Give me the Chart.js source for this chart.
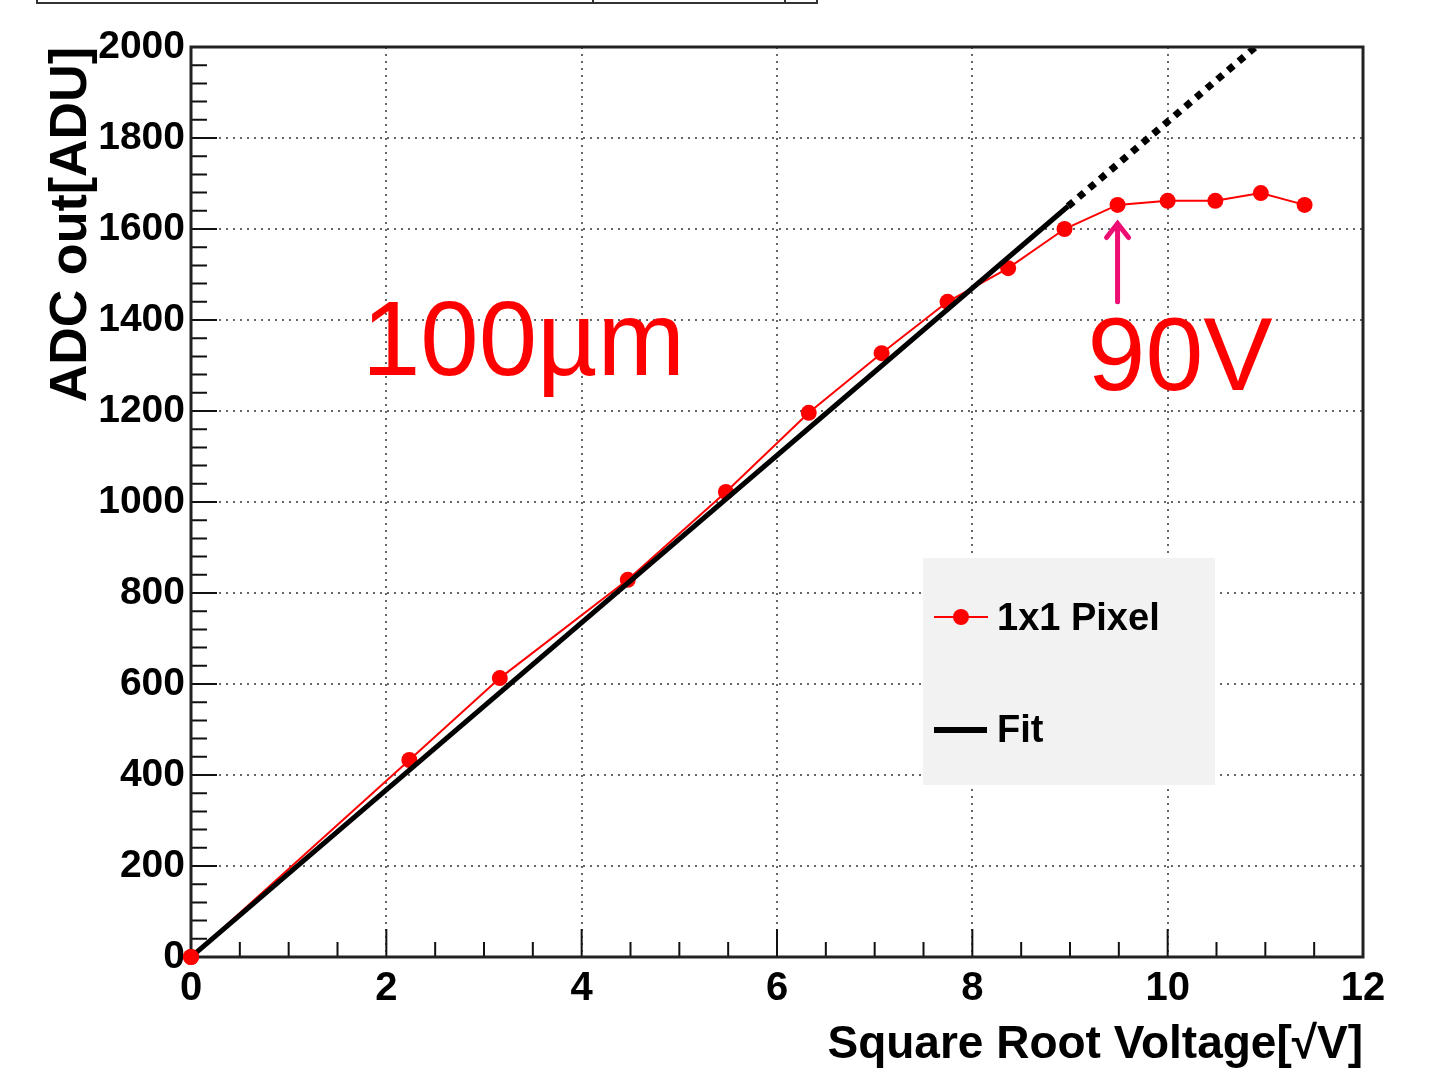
<!DOCTYPE html>
<html lang="en">
<head>
    <meta charset="UTF-8">
    <title>ADC out vs Square Root Voltage</title>
    <script src="https://cdn.jsdelivr.net/npm/chart.js"></script>
    <style>
        body { margin: 0; background: #fff; }
        .chart-container { width: 1451px; height: 1073px; }
    </style>
</head>
<body>
    <div class="chart-container">
        <canvas id="adcChart"></canvas>
    </div>

    <script>
        // data
        const sqrtVoltage = [0, 2.236, 3.162, 4.472, 5.477, 6.325, 7.071, 7.746, 8.367, 8.944, 9.487, 10, 10.488, 10.954, 11.402];
        const adcOut = [0, 433, 613, 829, 1022, 1196, 1327, 1440, 1514, 1600, 1653, 1662, 1662, 1679, 1653];
        const fitX = [0, 8.98];
        const fitY = [0, 1650];
        const fitExtX = [8.98, 10.9];
        const fitExtY = [1650, 2000];
        const xTicks = [0, 2, 4, 6, 8, 10, 12];
        const yTicks = [0, 200, 400, 600, 800, 1000, 1200, 1400, 1600, 1800, 2000];
        const seriesLabels = ["1x1 Pixel", "Fit"];

        const toPoints = (xs, ys) => xs.map((x, i) => ({ x: x, y: ys[i] }));
        const FONT = "'Liberation Sans', Arial, sans-serif";

        // frame, inner ticks, legend box and text labels
        const decorations = {
            id: 'decorations',
            afterDatasetsDraw(chart) {
                const ctx = chart.ctx;
                const ca = chart.chartArea;
                const xs = chart.scales.x, ys = chart.scales.y;
                ctx.save();

                // leftover box at the very top
                ctx.strokeStyle = '#333';
                ctx.lineWidth = 2;
                ctx.strokeRect(37, -10, 780, 13);
                ctx.beginPath();
                ctx.moveTo(593, 0); ctx.lineTo(593, 3);
                ctx.moveTo(785, 0); ctx.lineTo(785, 3);
                ctx.stroke();

                // inner ticks
                ctx.strokeStyle = '#111';
                ctx.lineWidth = 2;
                ctx.beginPath();
                for (let v = 0; v <= 2000; v += 40) {
                    const y = ys.getPixelForValue(v);
                    const len = v % 200 === 0 ? 26 : 16;
                    ctx.moveTo(ca.left, y); ctx.lineTo(ca.left + len, y);
                }
                for (let v = 0; v <= 12; v += 0.5) {
                    const x = xs.getPixelForValue(v);
                    const len = v % 2 === 0 ? 28 : 15;
                    ctx.moveTo(x, ca.bottom); ctx.lineTo(x, ca.bottom - len);
                }
                ctx.stroke();

                // frame
                ctx.strokeStyle = '#222';
                ctx.lineWidth = 3;
                ctx.strokeRect(ca.left, ca.top, ca.right - ca.left, ca.bottom - ca.top);

                // origin point sits above the fit line
                ctx.fillStyle = '#ff0000';
                ctx.beginPath();
                ctx.arc(xs.getPixelForValue(sqrtVoltage[0]), ys.getPixelForValue(adcOut[0]), 8, 0, Math.PI * 2);
                ctx.fill();

                // legend
                const lx = 923, ly = 558;
                ctx.fillStyle = '#f2f2f2';
                ctx.fillRect(lx, ly, 292, 227);
                ctx.strokeStyle = '#ff0000';
                ctx.lineWidth = 2;
                ctx.beginPath();
                ctx.moveTo(lx + 11, ly + 59); ctx.lineTo(lx + 65, ly + 59);
                ctx.stroke();
                ctx.fillStyle = '#ff0000';
                ctx.beginPath();
                ctx.arc(lx + 38, ly + 59, 8, 0, Math.PI * 2);
                ctx.fill();
                ctx.strokeStyle = '#000';
                ctx.lineWidth = 6;
                ctx.beginPath();
                ctx.moveTo(lx + 11, ly + 172); ctx.lineTo(lx + 64, ly + 172);
                ctx.stroke();
                ctx.fillStyle = '#000';
                ctx.font = 'bold 38px ' + FONT;
                ctx.textBaseline = 'middle';
                ctx.fillText(seriesLabels[0], lx + 74, ly + 62);
                ctx.fillText(seriesLabels[1], lx + 74, ly + 174);

                // annotations
                ctx.fillStyle = '#ff0000';
                ctx.textBaseline = 'alphabetic';
                ctx.font = '105px ' + FONT;
                ctx.fillText('100µm', xs.getPixelForValue(1.75), ys.getPixelForValue(1279));
                ctx.font = '104px ' + FONT;
                ctx.fillText('90V', xs.getPixelForValue(9.18), ys.getPixelForValue(1246));

                // arrow pointing at 90V point
                const ax = xs.getPixelForValue(9.487);
                const ay0 = ys.getPixelForValue(1440), ay1 = ys.getPixelForValue(1612);
                ctx.strokeStyle = '#ee0d72';
                ctx.lineWidth = 5;
                ctx.lineCap = 'round';
                ctx.beginPath();
                ctx.moveTo(ax, ay0); ctx.lineTo(ax, ay1);
                ctx.moveTo(ax - 11, ay1 + 14); ctx.lineTo(ax, ay1); ctx.lineTo(ax + 11, ay1 + 14);
                ctx.stroke();

                ctx.restore();
            }
        };

        const ctx = document.getElementById('adcChart').getContext('2d');
        new Chart(ctx, {
            type: 'scatter',
            data: {
                datasets: [
                    {
                        label: seriesLabels[0],
                        data: toPoints(sqrtVoltage, adcOut),
                        showLine: true,
                        borderColor: '#ff0000',
                        backgroundColor: '#ff0000',
                        borderWidth: 2,
                        pointRadius: 8,
                        pointBorderWidth: 0,
                        clip: false,
                        order: 2
                    },
                    {
                        label: seriesLabels[1],
                        data: toPoints(fitX, fitY),
                        showLine: true,
                        borderColor: '#000',
                        borderWidth: 5,
                        pointRadius: 0,
                        order: 1
                    },
                    {
                        label: seriesLabels[1] + ' (extrapolated)',
                        data: toPoints(fitExtX, fitExtY),
                        showLine: true,
                        borderColor: '#000',
                        borderWidth: 7,
                        borderDash: [7, 7],
                        pointRadius: 0,
                        order: 1
                    }
                ]
            },
            options: {
                responsive: true,
                maintainAspectRatio: false,
                animation: false,
                layout: { padding: { top: 47, right: 88, left: 0, bottom: 0 } },
                plugins: { legend: { display: false }, tooltip: { enabled: false } },
                scales: {
                    x: {
                        type: 'linear',
                        min: 0, max: 12,
                        afterFit(scale) { scale.height = 116; },
                        afterBuildTicks(scale) { scale.ticks = xTicks.map(v => ({ value: v })); },
                        grid: {
                            drawTicks: false,
                            color: '#666',
                            lineWidth: 2
                        },
                        border: { display: false, dash: [2, 5] },
                        ticks: {
                            padding: 8,
                            color: '#000',
                            callback: v => String(v),
                            font: { family: FONT, size: 40, weight: 'bold' }
                        },
                        title: {
                            display: true,
                            text: 'Square Root Voltage[√V]',
                            align: 'end',
                            color: '#000',
                            padding: { top: 0, bottom: 0 },
                            font: { family: FONT, size: 46, weight: 'bold' }
                        }
                    },
                    y: {
                        min: 0, max: 2000,
                        afterFit(scale) { scale.width = 191; },
                        afterBuildTicks(scale) { scale.ticks = yTicks.map(v => ({ value: v })); },
                        grid: {
                            drawTicks: false,
                            color: '#666',
                            lineWidth: 2
                        },
                        border: { display: false, dash: [2, 5] },
                        ticks: {
                            padding: 6,
                            color: '#000',
                            callback: v => String(v),
                            font: { family: FONT, size: 39, weight: 'bold' }
                        },
                        title: {
                            display: true,
                            text: 'ADC out[ADU]',
                            align: 'end',
                            color: '#000',
                            padding: { top: 40, bottom: 0 },
                            font: { family: FONT, size: 52, weight: 'bold' }
                        }
                    }
                }
            },
            plugins: [decorations]
        });
    </script>
</body>
</html>
